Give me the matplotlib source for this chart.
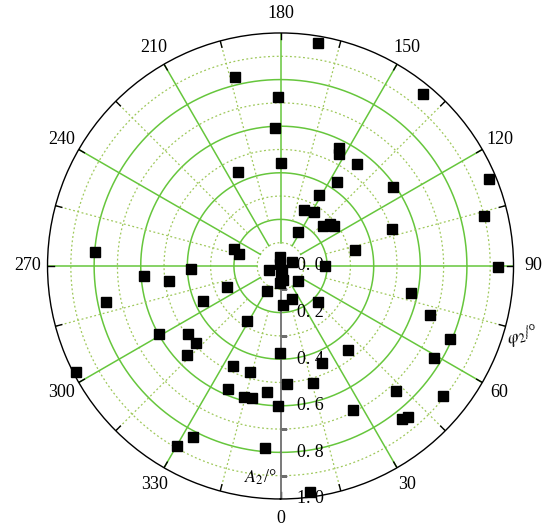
import numpy as np
import matplotlib
matplotlib.use("Agg")
import matplotlib.pyplot as plt
from matplotlib import transforms

plt.rcParams['mathtext.fontset'] = 'stix'
plt.rcParams['font.family'] = ['Liberation Serif', 'DejaVu Serif']

# Data: angle phi2 (degrees) and A2 (radial value)
theta_deg = [170.4, 140.4, 193.4, 181.0, 182.1, 153.5, 152.3, 143.2, 180.0, 146.1,
             151.3, 157.1, 148.2, 133.5, 130.1, 126.8, 152.2, 125.1, 108.3, 101.8,
             112.6, 103.9, 89.7, 204.3, 265.6, 250.2, 254.3, 272.1, 274.2, 277.5,
             281.6, 291.0, 294.2, 328.7, 299.3, 306.5, 312.1, 313.6, 297.4, 334.5,
             343.8, 337.1, 344.4, 347.6, 353.7, 333.0, 330.0, 355.1, 358.8, 359.7,
             3.0, 15.4, 23.1, 38.9, 78.4, 71.9, 66.7, 58.9, 42.7, 51.5,
             26.8, 38.3, 40.1, 7.4, 183.0, 111.0, 287.0, 194.0, 14.0, 0.0,
             11.3, 358.0, 48.9, 331.6, 18.9, 3.7, 45.8, 90.6]
r_vals = [0.969, 0.958, 0.835, 0.724, 0.593, 0.566, 0.543, 0.545, 0.441, 0.432,
          0.347, 0.259, 0.275, 0.250, 0.278, 0.287, 0.164, 0.592, 0.502, 0.327,
          0.971, 0.898, 0.935, 0.444, 0.798, 0.212, 0.185, 0.384, 0.586, 0.483,
          0.764, 0.247, 0.363, 0.276, 0.596, 0.492, 0.491, 0.554, 0.987, 0.476,
          0.476, 0.575, 0.582, 0.578, 0.543, 0.825, 0.892, 0.785, 0.601, 0.375,
          0.507, 0.520, 0.451, 0.463, 0.572, 0.675, 0.792, 0.768, 0.730, 0.893,
          0.693, 0.839, 0.847, 0.977, 0.039, 0.052, 0.052, 0.009, 0.018, 0.039,
          0.061, 0.074, 0.101, 0.122, 0.152, 0.168, 0.222, 0.191]

angle_ticks = [0, 30, 60, 90, 120, 150, 180, 210, 240, 270, 300, 330]
radial_ticks = [0.0, 0.2, 0.4, 0.6, 0.8, 1.0]
radial_labels = ["0. 0", "0. 2", "0. 4", "0. 6", "0. 8", "1. 0"]

solid_green = '#66c63c'
dot_green = '#9ec85a'

fig = plt.figure(figsize=(5.5, 5.31), dpi=100)
ax = fig.add_axes([0.0864, 0.0603, 0.8473, 0.8776], projection='polar')
ax.set_theta_zero_location('S')
ax.set_theta_direction(1)
ax.set_ylim(0, 1.0)
ax.set_xticks([])
ax.set_yticks([])
ax.grid(False)
ax.spines['polar'].set_color('black')
ax.spines['polar'].set_linewidth(1.0)

tt = np.linspace(0, 2 * np.pi, 721)
for rc in [0.2, 0.4, 0.6, 0.8]:
    ax.plot(tt, np.full_like(tt, rc), color=solid_green, lw=1.1, zorder=1)
for rc in [0.1, 0.3, 0.5, 0.7, 0.9]:
    ax.plot(tt, np.full_like(tt, rc), color=dot_green, lw=0.9, ls=(0, (1.5, 2)), zorder=1)

for a in range(30, 360, 30):
    ax.plot([np.deg2rad(a)] * 2, [0.1, 1.0], color=solid_green, lw=1.1, zorder=1)
for a in range(15, 360, 30):
    ax.plot([np.deg2rad(a)] * 2, [0.2, 1.0], color=dot_green, lw=0.9, ls=(0, (1.5, 2)), zorder=1)

# outer ticks
for a in range(0, 360, 15):
    ax.plot([np.deg2rad(a)] * 2, [0.972, 1.0], color='black', lw=1.0, zorder=2)

# radial axis along 0 deg
ax.plot([0, 0], [0, 1.0], color='#6e6e6e', lw=1.3, zorder=2)
for rv in np.arange(0.1, 1.0, 0.2):
    ax.plot([0], [rv], marker=1, color='#6e6e6e', ms=4, mew=1.0, zorder=2)

off = transforms.offset_copy(ax.transData, fig=fig, x=16, y=0, units='dots')
for rv, lab in zip(radial_ticks, radial_labels):
    ax.text(0, rv, lab, transform=off, ha='left', va='center', fontsize=13, zorder=5)

for a in angle_ticks:
    ax.text(np.deg2rad(a), 1.085, str(a), ha='center', va='center', fontsize=13)

ax.plot(np.deg2rad(theta_deg), r_vals, 's', color='black', ms=7, zorder=4, clip_on=False)

ax.text(np.deg2rad(73.9), 1.08, r'$\varphi_2$/°', ha='center', va='center',
        fontsize=13, rotation=16)
offA = transforms.offset_copy(ax.transData, fig=fig, x=-4, y=0, units='dots')
ax.text(0, 0.905, r'$A_2$/°', transform=offA, ha='right', va='center', fontsize=13)

fig.savefig('out.png', dpi=100, facecolor='white')
